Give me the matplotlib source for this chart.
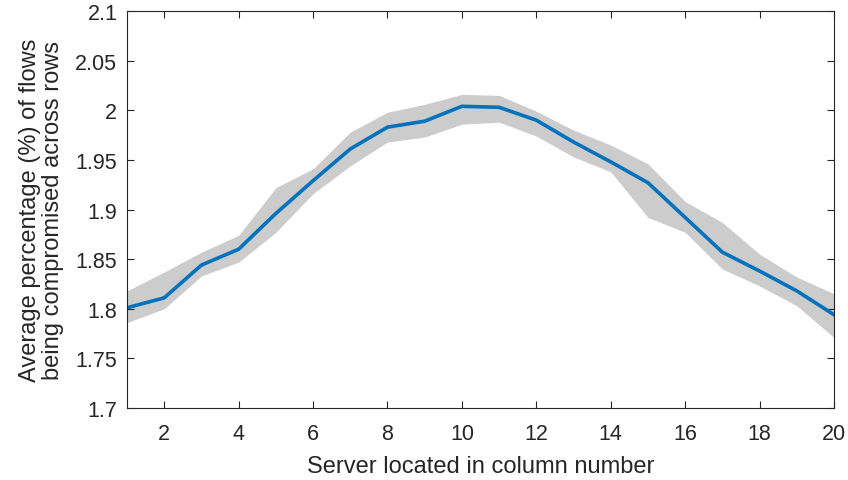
import numpy as np
import matplotlib.pyplot as plt

plt.rcParams['font.family'] = ['Liberation Sans', 'DejaVu Sans']

columns = np.arange(1, 21)
mean_pct = [1.801, 1.811, 1.844, 1.860, 1.896, 1.929, 1.961, 1.983, 1.989, 2.004,
            2.003, 1.990, 1.968, 1.948, 1.927, 1.892, 1.857, 1.838, 1.818, 1.794]
upper_pct = [1.818, 1.837, 1.857, 1.874, 1.922, 1.941, 1.978, 1.998, 2.006, 2.016,
             2.015, 1.999, 1.980, 1.965, 1.946, 1.908, 1.887, 1.855, 1.832, 1.815]
lower_pct = [1.786, 1.800, 1.833, 1.847, 1.877, 1.916, 1.944, 1.968, 1.973, 1.986,
             1.988, 1.974, 1.953, 1.938, 1.892, 1.877, 1.840, 1.823, 1.803, 1.771]
xticks = [2, 4, 6, 8, 10, 12, 14, 16, 18, 20]
yticks = [1.7, 1.75, 1.8, 1.85, 1.9, 1.95, 2.0, 2.05, 2.1]
ytick_labels = ['1.7', '1.75', '1.8', '1.85', '1.9', '1.95', '2', '2.05', '2.1']

fig = plt.figure(figsize=(8.48, 4.81), dpi=100)
ax = fig.add_axes([0.1498, 0.1497, 0.8337, 0.8253])

# shaded band for the spread, mean line on top
ax.fill_between(columns, lower_pct, upper_pct, color=(0.8, 0.8, 0.8), linewidth=0)
ax.plot(columns, mean_pct, color='#0072BD', linewidth=2.6)

ax.set_xlim(1, 20)
ax.set_ylim(1.7, 2.1)
ax.set_xticks(xticks)
ax.set_yticks(yticks)
ax.set_yticklabels(ytick_labels)

txt = '#262626'
ax.tick_params(direction='in', top=True, right=True, length=5, width=0.8,
               labelsize=15.5, colors=txt)
ax.tick_params(axis='x', pad=11)
ax.tick_params(axis='y', pad=7)
for s in ax.spines.values():
    s.set_color(txt)
    s.set_linewidth(0.8)

ax.set_xlabel('Server located in column number', fontsize=17, color=txt, labelpad=8)
ax.set_ylabel('Average percentage (%) of flows\nbeing compromised across rows',
              fontsize=17, color=txt, labelpad=8, linespacing=1.05)

fig.savefig('out.png', dpi=100)
